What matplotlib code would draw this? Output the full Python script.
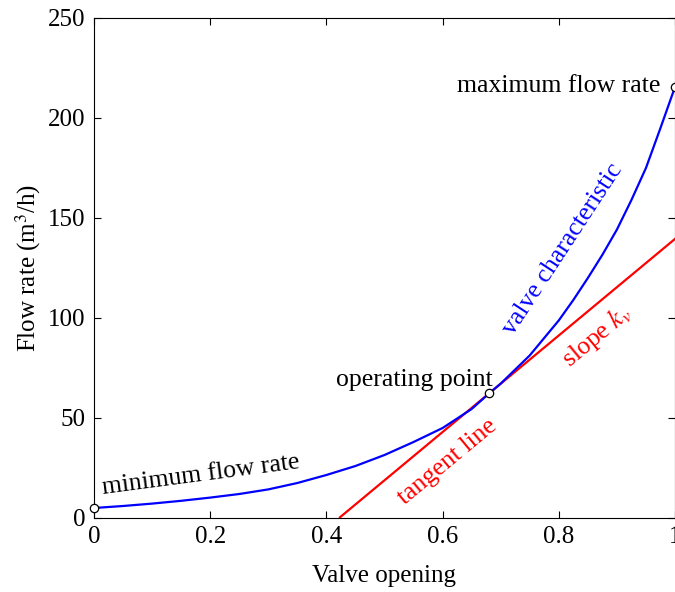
import matplotlib
matplotlib.use("Agg")
import matplotlib.pyplot as plt
import numpy as np

plt.rcParams['font.family'] = ['Liberation Serif', 'DejaVu Serif']
plt.rcParams['mathtext.fontset'] = 'stix'

# Valve characteristic
opening = [0.00, 0.05, 0.10, 0.15, 0.20, 0.25, 0.30, 0.35, 0.40, 0.45, 0.50,
           0.55, 0.60, 0.65, 0.68, 0.70, 0.75, 0.80, 0.825, 0.85, 0.875,
           0.90, 0.925, 0.95, 0.975, 1.00]
flow = [5.0, 6.0, 7.2, 8.6, 10.2, 12.0, 14.3, 17.5, 21.5, 26.0, 31.5,
        38.0, 45.0, 54.5, 62.3, 67.2, 81.3, 98.8, 109.0, 120.0, 131.6,
        144.2, 159.0, 175.0, 195.0, 215.5]

# Operating point and tangent slope
op_x, op_y = 0.68, 62.3
kv = 241.4
tangent_x = [0.4234, 1.0]

# Special points
pts_x = [0.0, 0.68, 1.0]
pts_y = [5.0, 62.3, 215.5]

fig = plt.figure(figsize=(6.75, 5.92), dpi=100)
ax = fig.add_axes([94/675, 74/592, 581/675, 500/592])

ax.plot(opening, flow, color=(0, 0, 1), lw=1.6, zorder=3)
ty = [op_y + kv * (t - op_x) for t in tangent_x]
ax.plot(tangent_x, ty, color=(1, 0, 0), lw=1.6, zorder=2)
ax.plot(pts_x, pts_y, 'o', ms=6, mfc='white', mec='black', mew=0.9,
        clip_on=False, zorder=5)

ax.set_xlim(0, 1)
ax.set_ylim(0, 250)
ax.set_xticks([0, 0.2, 0.4, 0.6, 0.8, 1])
ax.set_xticklabels(['0', '0.2', '0.4', '0.6', '0.8', '1'])
ax.set_yticks([0, 50, 100, 150, 200, 250])
ax.tick_params(direction='in', top=True, right=True, length=5, width=0.8,
               labelsize=18, pad=6)
for s in ax.spines.values():
    s.set_linewidth(0.8)

ax.set_xlabel('Valve opening', fontsize=18, labelpad=12)
ax.set_ylabel('Flow rate (m$^3$/h)', fontsize=18, labelpad=4)

fs = 18.5
ax.text(0.015, 12, 'minimum flow rate', fontsize=fs, rotation=7.5,
        rotation_mode='anchor', ha='left', va='baseline')
ax.text(0.686, 66, 'operating point', fontsize=fs, ha='right', va='baseline')
ax.text(0.975, 213, 'maximum flow rate', fontsize=fs, ha='right', va='baseline')
ax.text(0.722, 91, 'valve characteristic', fontsize=fs, color=(0, 0, 1),
        rotation=56.7, rotation_mode='anchor', ha='left', va='baseline')
ax.text(0.819, 75, 'slope $k_v$', fontsize=fs, color=(1, 0, 0),
        rotation=39.7, rotation_mode='anchor', ha='left', va='baseline')
ax.text(0.535, 6.5, 'tangent line', fontsize=fs, color=(1, 0, 0),
        rotation=39.7, rotation_mode='anchor', ha='left', va='baseline')

fig.savefig('out.png', dpi=100)
